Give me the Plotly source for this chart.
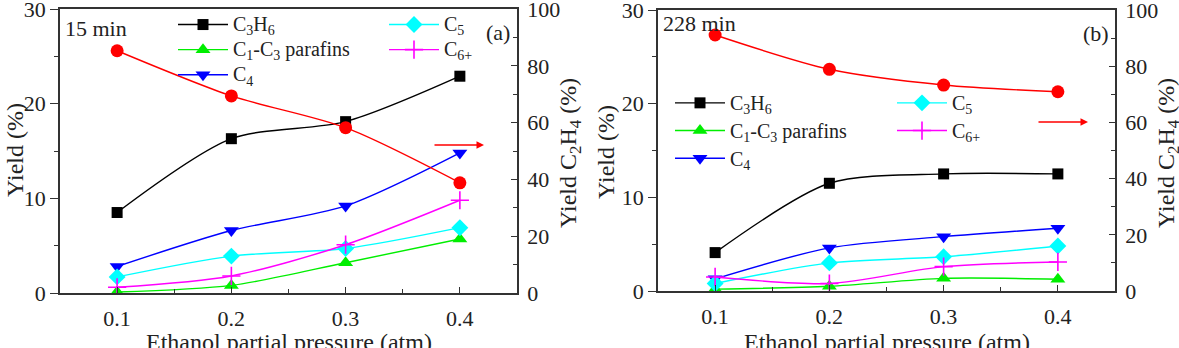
import plotly.graph_objects as go

W, H = 1179, 348

pressure = [0.1, 0.2, 0.3, 0.4]
x_tick_labels = ["0.1", "0.2", "0.3", "0.4"]

# Panel (a): 15 min
a_c3h6 = [8.5, 16.3, 18.1, 22.9]
a_c1c3 = [0.1, 0.8, 3.2, 5.7]
a_c4 = [2.8, 6.6, 9.2, 14.8]
a_c5 = [1.7, 3.9, 4.7, 6.9]
a_c6 = [0.6, 1.8, 5.1, 9.8]
a_c2h4 = [85.3, 69.4, 58.2, 38.8]

# Panel (b): 228 min
b_c3h6 = [4.1, 11.5, 12.5, 12.5]
b_c1c3 = [0.2, 0.5, 1.35, 1.25]
b_c4 = [1.3, 4.6, 5.8, 6.7]
b_c5 = [0.8, 3.0, 3.65, 4.8]
b_c6 = [1.5, 0.8, 2.6, 3.1]
b_c2h4 = [91.1, 78.9, 73.3, 70.9]

series_names = ["C<sub>3</sub>H<sub>6</sub>", "C<sub>1</sub>-C<sub>3</sub> parafins",
                "C<sub>4</sub>", "C<sub>5</sub>", "C<sub>6+</sub>"]
colors = ["#000000", "#00ee00", "#0000ff", "#00ffff", "#ff00ff"]
symbols = ["square", "triangle-up", "triangle-down", "diamond", "cross-thin"]
sizes = [11, 13, 13, 13, 13]

FONT = "Liberation Serif"
TXT = "#222222"
LEG_TXT_PX = 20

fig = go.Figure()


def add_panel(xa, ya, ya2, data, c2h4, legends):
    for i, (name, vals) in enumerate(zip(series_names, data)):
        lg = legends[0] if i < 3 else legends[1]
        marker = dict(symbol=symbols[i], size=sizes[i], color=colors[i])
        if symbols[i] == "cross-thin":
            marker["line"] = dict(color=colors[i], width=1.6)
        fig.add_trace(go.Scatter(
            x=pressure, y=vals,
            name=f'<span style="font-size:{LEG_TXT_PX}px">{name}</span>',
            mode="lines+markers",
            line=dict(color=colors[i], width=1.4, shape="spline", smoothing=0.8),
            marker=marker, xaxis=xa, yaxis=ya, legend=lg))
    fig.add_trace(go.Scatter(
        x=pressure, y=c2h4, name="C2H4", mode="lines+markers", showlegend=False,
        line=dict(color="#ff0000", width=1.4, shape="spline", smoothing=0.8),
        marker=dict(symbol="circle", size=13, color="#ff0000"),
        xaxis=xa, yaxis=ya2))


add_panel("x", "y", "y2", [a_c3h6, a_c1c3, a_c4, a_c5, a_c6], a_c2h4, ["legend", "legend2"])
add_panel("x2", "y3", "y4", [b_c3h6, b_c1c3, b_c4, b_c5, b_c6], b_c2h4, ["legend3", "legend4"])

tickfont = dict(family=FONT, size=22, color=TXT)
line_col = "#333333"

xcommon = dict(range=[0.05, 0.45], tickvals=pressure, ticktext=x_tick_labels,
               ticks="inside", ticklen=6, tickwidth=1.3, tickcolor=line_col,
               minor=dict(dtick=0.05, ticks="inside", ticklen=4, tickcolor=line_col),
               showline=True, linecolor=line_col, linewidth=1.5, mirror=True,
               showgrid=False, zeroline=False, tickfont=tickfont, ticklabelstandoff=5,
               automargin=False)
yleft = dict(range=[0, 30], dtick=10, ticks="outside", ticklen=8, tickwidth=1.3,
             tickcolor=line_col,
             minor=dict(dtick=5, ticks="outside", ticklen=4, tickcolor=line_col),
             showline=True, linecolor=line_col, linewidth=1.5,
             showgrid=False, zeroline=False, tickfont=tickfont,
             ticklabeloverflow="allow", automargin=False)
yright = dict(range=[0, 100], dtick=20, ticks="inside", ticklen=6, tickwidth=1.3,
              tickcolor=line_col,
              minor=dict(dtick=10, ticks="inside", ticklen=4, tickcolor=line_col),
              showline=True, linecolor=line_col, linewidth=1.5, side="right",
              showgrid=False, zeroline=False, tickfont=tickfont, ticklabelstandoff=4,
              ticklabeloverflow="allow", automargin=False)

fig.update_layout(
    xaxis=dict(domain=[60 / W, 517 / W], anchor="y", **xcommon),
    yaxis=dict(domain=[1 - 293 / H, 1 - 9 / H], anchor="x", **yleft),
    yaxis2=dict(overlaying="y", anchor="x", **yright),
    xaxis2=dict(domain=[658 / W, 1115 / W], anchor="y3", **xcommon),
    yaxis3=dict(domain=[1 - 291 / H, 1 - 10 / H], anchor="x2", **yleft),
    yaxis4=dict(overlaying="y3", anchor="x2", **yright),
)


def leg(px, py, fs):
    return dict(x=px / W, y=1 - py / H, xanchor="left", yanchor="top",
                bgcolor="rgba(0,0,0,0)", borderwidth=0,
                font=dict(family=FONT, size=fs, color=TXT),
                traceorder="normal", itemwidth=50, tracegroupgap=0)


fig.update_layout(
    width=W, height=H, margin=dict(l=0, r=0, t=0, b=0, autoexpand=False),
    plot_bgcolor="white", paper_bgcolor="white", showlegend=True,
    legend=leg(173, 7, 17), legend2=leg(384, 7, 17),
    legend3=leg(670, 84, 19), legend4=leg(892, 84, 19),
)


def ann(text, px, py, xanchor="center", yanchor="middle", angle=0, size=22):
    fig.add_annotation(text=text, x=px / W, y=1 - py / H, xref="paper", yref="paper",
                       xanchor=xanchor, yanchor=yanchor, textangle=angle,
                       showarrow=False, font=dict(family=FONT, size=size, color=TXT))


ann("15 min", 63, 28, xanchor="left")
ann("(a)", 512, 32, xanchor="right")
ann("228 min", 661, 23, xanchor="left")
ann("(b)", 1111, 33, xanchor="right")

ann("Yield (%)", 15, 150, angle=-90, size=24)
ann("Yield C<sub>2</sub>H<sub>4</sub> (%)", 570, 153, angle=-90, size=24)
ann("Yield (%)", 606, 152, angle=-90, size=24)
ann("Yield C<sub>2</sub>H<sub>4</sub> (%)", 1168, 153, angle=-90, size=24)

ann("Ethanol partial pressure (atm)", 288.5, 342, size=24)
ann("Ethanol partial pressure (atm)", 886.5, 342, size=24)

for hx, hy in [(484, 145), (1088, 122)]:
    fig.add_annotation(x=hx / W, y=1 - hy / H, xref="paper", yref="paper",
                       ax=-51, ay=0, text="", showarrow=True, arrowhead=2,
                       arrowsize=1, arrowwidth=1.5, arrowcolor="#ff0000")

fig.write_html("out.html")
